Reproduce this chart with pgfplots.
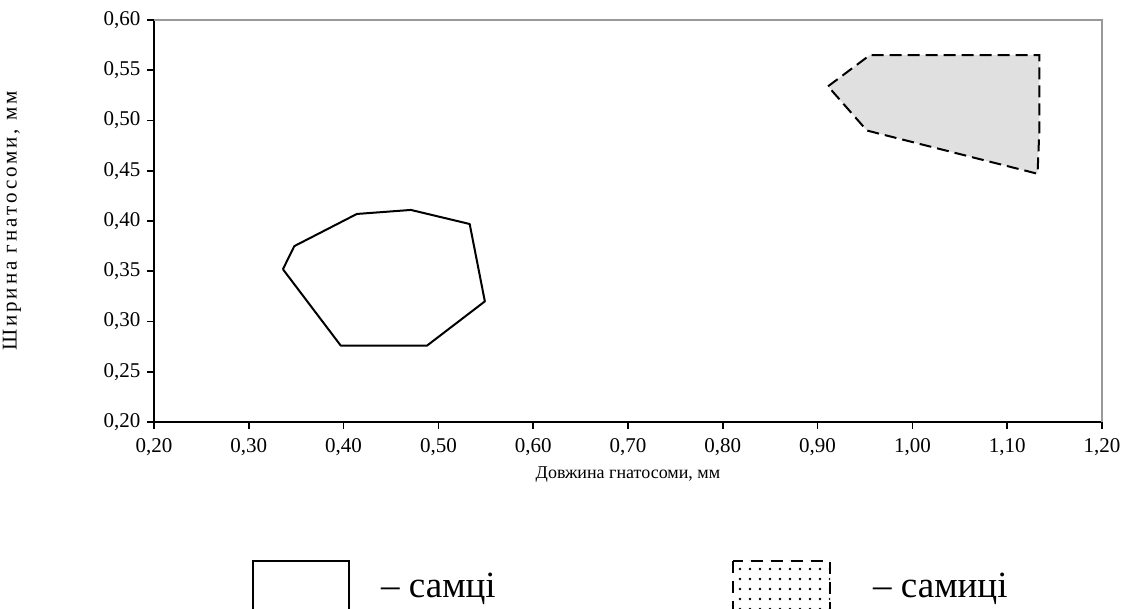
\documentclass[border=0pt]{standalone}
\usepackage{fontspec}
\setmainfont{Liberation Serif}
\usepackage{pgfplots}
\pgfplotsset{compat=1.18}
\usetikzlibrary{patterns.meta}
\begin{document}
\begin{tikzpicture}[x=1pt,y=1pt]
\useasboundingbox (0,0) rectangle (1129,609);
\clip (0,0) rectangle (1129,609);
\begin{axis}[
  at={(154pt,187pt)}, anchor=south west,
  scale only axis, width=948pt, height=402pt,
  xmin=0.2, xmax=1.2, ymin=0.2, ymax=0.6,
  xtick={0.2,0.3,0.4,0.5,0.6,0.7,0.8,0.9,1.0,1.1,1.2},
  ytick={0.2,0.25,0.3,0.35,0.4,0.45,0.5,0.55,0.6},
  axis x line*=bottom, axis y line*=left,
  axis line style={-, line width=1.6pt, black},
  tick align=outside, major tick length=7pt,
  tick style={line width=1.6pt, black},
  /pgf/number format/.cd, use comma, fixed, fixed zerofill, precision=2, assume math mode=true,
  /pgfplots/.cd,
  tick label style={font=\fontsize{21}{24}\selectfont},
  xticklabel style={yshift=-6pt},
  yticklabel style={xshift=-3pt},
  xlabel={Довжина гнатосоми, мм},
  xlabel style={at={(axis description cs:0.5,-0.131)}, anchor=center, font=\fontsize{18}{21}\selectfont},
  ylabel={Ширина гнатосоми, мм},
  ylabel style={at={(axis description cs:-0.1498,0.5)}, anchor=center, font=\fontsize{21}{24}\selectfont\addfontfeatures{LetterSpace=14}},
  clip=false,
]
\draw[gray!80, line width=1.6pt] (rel axis cs:0,1) -- (rel axis cs:1,1) -- (rel axis cs:1,0);
% males
\addplot[black, line width=2pt, line join=round, mark=none] coordinates {
 (0.336,0.352) (0.348,0.375) (0.414,0.407) (0.471,0.411) (0.533,0.397)
 (0.549,0.320) (0.488,0.276) (0.397,0.276) (0.336,0.352)};
% females
\addplot[black, line width=2pt, dash pattern=on 12pt off 6pt, fill=black!12, mark=none] coordinates {
 (0.911,0.534) (0.955,0.565) (1.134,0.565) (1.134,0.492) (1.132,0.447)
 (0.952,0.490) (0.911,0.534)};
\end{axis}
% legend
\draw[black, line width=1.6pt, fill=white] (253,48) rectangle (349,-20);
\node[anchor=base west, font=\fontsize{37}{40}\selectfont, inner sep=0pt] at (381,11) {– самці};
\fill[pattern={Dots[distance=10pt, radius=1.3pt]}] (733,48) rectangle (830,-20);
\draw[black, line width=1.6pt, dash pattern=on 12pt off 8pt] (733,48) rectangle (830,-20);
\node[anchor=base west, font=\fontsize{37}{40}\selectfont, inner sep=0pt] at (873,11) {– самиці};
\end{tikzpicture}
\end{document}
